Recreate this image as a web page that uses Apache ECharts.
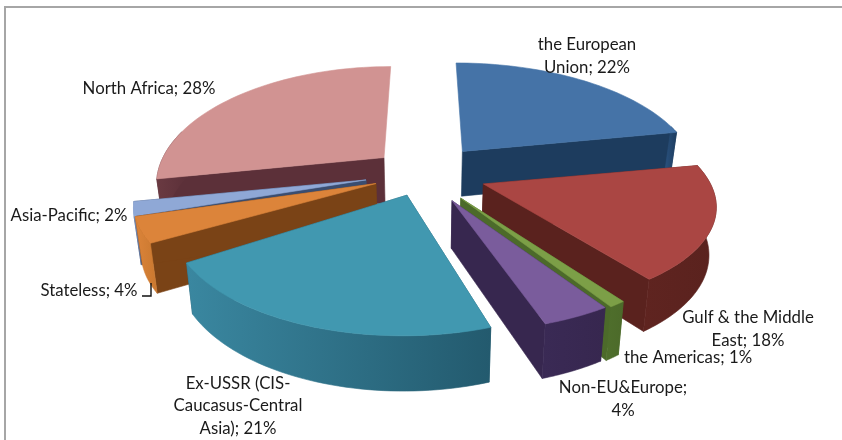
<!DOCTYPE html>
<html><head><meta charset="utf-8">
<style>html,body{margin:0;padding:0;background:#fff}#c{width:842px;height:440px}</style>
<script src="https://cdn.jsdelivr.net/npm/echarts@6/dist/echarts.min.js"></script>
</head><body><div id="c"></div>
<script>
const categories = ["the European Union","Gulf & the Middle East","the Americas","Non-EU&Europe","Ex-USSR (CIS-Caucasus-Central Asia)","Stateless","Asia-Pacific","North Africa"];
const values = [22,18,1,4,21,4,2,28];
const labelTexts = ["the European\nUnion; 22%","Gulf & the Middle\nEast; 18%","the Americas; 1%","Non-EU&Europe;\n4%","Ex-USSR (CIS-\nCaucasus-Central\nAsia); 21%","Stateless; 4%","Asia-Pacific; 2%","North Africa; 28%"];

// styling / layout, by slice
const explode = [.27,.27,.27,.27,.21,.225,.255,.23];
const scaleX  = [1.02,.96,.93,.96,.96,1,.96,.98];
const scaleY  = [1.06,.9,.92,.9,.97,.9,1,1.07];
const topCol  = ["#4573a7","#aa4643","#7c9f47","#7a5c9c","#4198b0","#dc843a","#8fa8d6","#d19392"];
const wallCol = ["#1d3c5e","#5a221e","#4c6a2a","#37274f","#235a6e","#7a4316","#3a4d70","#5c3039"];
const rimL    = ["#2a527f","#5f2420","#4f6f2c","#3a2a55","#3a87a0","#dc843a","#7f98c4","#6a3a42"];
const rimR    = ["#1d3c5e","#5a221e","#4c6a2a","#37274f","#235a6e","#c9782f","#5a6f98","#5c3039"];
const labelPos = [[587,56],[748,329],[688,358],[623,399],[238,406],[89,291],[69,216],[149,89]];
const drawOrder = [7,6,0,5,1,2,3,4];
const G = {cx:424,cy:173,rx:232,ry:108,p:.193,h:46,shrink:.975};

const total = values.reduce((a,b)=>a+b,0);
const starts = []; values.reduce((a,v,i)=>{starts[i]=a;return a+v;},0);
function project(u,v,low){
  const w = 1+G.p*v;
  const x = G.rx*u/w, y = -G.ry*v/w;
  return low ? [G.cx+x*G.shrink, G.cy+y*G.shrink+G.h/w] : [G.cx+x, G.cy+y];
}
function sliceShapes(i){
  const a0 = starts[i]/total*2*Math.PI, a1 = (starts[i]+values[i])/total*2*Math.PI, m=(a0+a1)/2;
  const ox = explode[i]*Math.sin(m), oy = explode[i]*Math.cos(m);
  const n = 48, arc=[], front=[];
  for(let k=0;k<=n;k++){
    const a=a0+(a1-a0)*k/n;
    const q=[ox+scaleX[i]*Math.sin(a),oy+scaleY[i]*Math.cos(a)];
    arc.push(q);
    if(Math.cos(a)<.25) front.push(q);
  }
  const top = arc.map(q=>project(q[0],q[1],false));
  const A = project(ox,oy,false), B = project(ox,oy,true);
  const corner = (q)=>[project(q[0],q[1],false),project(q[0],q[1],true)];
  const style = f=>({fill:f,stroke:f,lineWidth:.6});
  const poly = (pts,f)=>({type:'polygon',shape:{points:pts},style:style(f)});
  const kids = [];
  // near-vertical radial edges show no wall
  [arc[0],arc[n]].forEach(q=>{
    const c=corner(q);
    if(Math.abs(c[0][0]-A[0])>15) kids.push(poly([A,c[0],c[1],B],wallCol[i]));
  });
  if(front.length>1){
    const rim = new echarts.graphic.LinearGradient(0,0,1,0,[{offset:0,color:rimL[i]},{offset:1,color:rimR[i]}]);
    kids.push(poly(front.map(q=>project(q[0],q[1],false)).concat(front.map(q=>project(q[0],q[1],true)).reverse()),rim));
  }
  kids.push(poly([A].concat(top),topCol[i]));
  return kids;
}
const chart = echarts.init(document.getElementById('c'),null,{renderer:'canvas'});
chart.setOption({
  animation:false,
  backgroundColor:'#fff',
  graphic:[
    {type:'polyline',z:0,shape:{points:[[5,440],[5,7],[842,7]]},style:{stroke:'#a6a6a6',fill:null,lineWidth:2}},
    {type:'polyline',z:100,shape:{points:[[142,296],[151,296],[151,283]]},style:{stroke:'#111',fill:null,lineWidth:1.4}}
  ],
  series:[
    {type:'custom',coordinateSystem:'none',z:2,silent:true,
     data:drawOrder.map(i=>[i,values[i]]),
     renderItem:(p,api)=>({type:'group',children:sliceShapes(api.value(0))})},
    {type:'custom',coordinateSystem:'none',z:5,silent:true,
     data:labelTexts.map((t,i)=>[i]),
     renderItem:(p,api)=>{const i=api.value(0);return {type:'text',x:labelPos[i][0],y:labelPos[i][1],
       style:{text:labelTexts[i],fill:'#1a1a1a',font:'16.8px Lato',align:'center',verticalAlign:'middle',lineHeight:22.7}};}}
  ]
});
</script></body></html>
